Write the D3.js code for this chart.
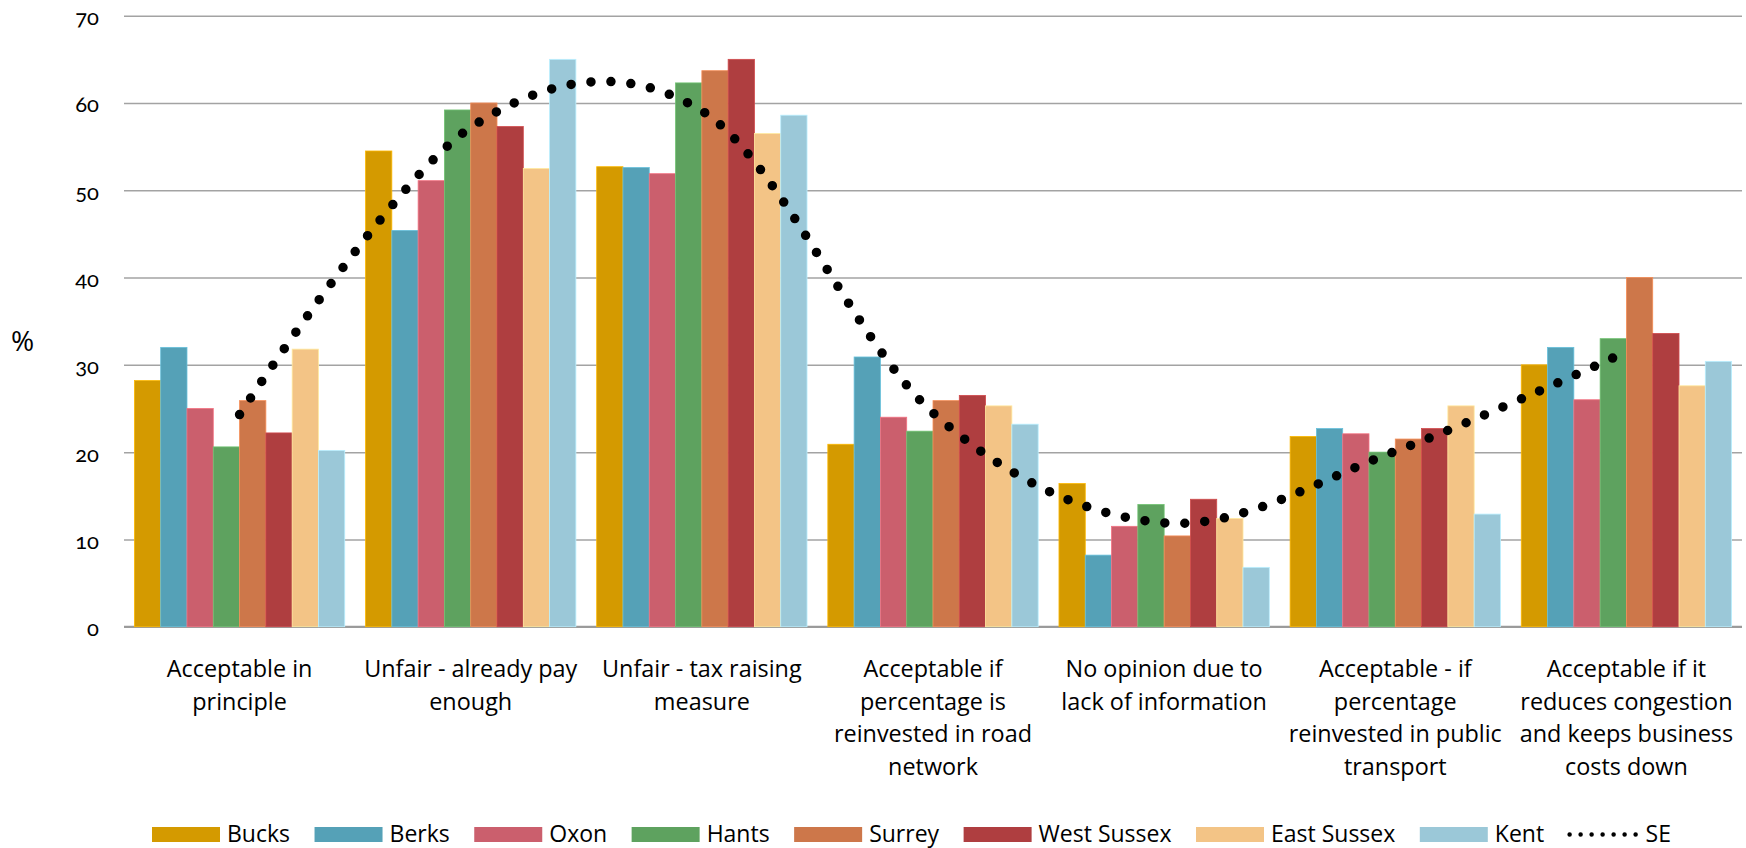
<!DOCTYPE html>
<html>
<head>
<meta charset="utf-8">
<script src="https://cdn.jsdelivr.net/npm/d3@7"></script>
<style>
  html, body { margin: 0; padding: 0; background: #fff; }
  svg { display: block; }
  text { font-family: "Open Sans", "Noto Sans", sans-serif; fill: #000; }
</style>
</head>
<body>
<svg id="chart" width="1746" height="848"></svg>
<script>
// Categories (each label split into its display lines)
const categories = [
  ["Acceptable in", "principle"],
  ["Unfair - already pay", "enough"],
  ["Unfair - tax raising", "measure"],
  ["Acceptable if", "percentage is", "reinvested in road", "network"],
  ["No opinion due to", "lack of information"],
  ["Acceptable - if", "percentage", "reinvested in public", "transport"],
  ["Acceptable if it", "reduces congestion", "and keeps business", "costs down"]
];

const seriesNames = ["Bucks", "Berks", "Oxon", "Hants", "Surrey", "West Sussex", "East Sussex", "Kent"];
const seriesColors = ["#D49A00", "#55A1B7", "#CB5F6D", "#5EA25F", "#CD774A", "#AF3E40", "#F3C486", "#9BC8D8"];

// Percentages per county, one value per category
const bucks      = [28.2, 54.5, 52.7, 20.9, 16.4, 21.8, 30.0];
const berks      = [32.0, 45.4, 52.6, 30.9,  8.2, 22.7, 32.0];
const oxon       = [25.0, 51.1, 51.9, 24.0, 11.5, 22.1, 26.0];
const hants      = [20.6, 59.2, 62.3, 22.4, 14.0, 20.0, 33.0];
const surrey     = [25.9, 60.0, 63.7, 25.9, 10.4, 21.5, 40.0];
const westSussex = [22.2, 57.3, 65.0, 26.5, 14.6, 22.7, 33.6];
const eastSussex = [31.8, 52.5, 56.5, 25.3, 12.4, 25.3, 27.6];
const kent       = [20.2, 65.0, 58.6, 23.2,  6.8, 12.9, 30.4];

// South East overall (smoothed dotted line)
const se = [24.3, 57.2, 59.1, 24.5, 11.9, 20.1, 31.5];

const yTicks = [0, 10, 20, 30, 40, 50, 60, 70];

const seriesValues = [bucks, berks, oxon, hants, surrey, westSussex, eastSussex, kent];

const svg = d3.select("#chart");
const plot = { left: 124, right: 1742, top: 15.7, bottom: 626.7 };

const x0 = d3.scaleBand()
  .domain(d3.range(categories.length))
  .range([plot.left, plot.right])
  .paddingInner(0.09)
  .paddingOuter(0.045);

const x1 = d3.scaleBand()
  .domain(seriesNames)
  .range([0, x0.bandwidth()])
  .padding(0);

const y = d3.scaleLinear().domain([0, 70]).range([plot.bottom, plot.top]);

// Horizontal gridlines and tick labels
const yAxis = d3.axisLeft(y)
  .tickValues(yTicks)
  .tickSize(-(plot.right - plot.left))
  .tickPadding(25)
  .tickFormat(d3.format("d"));

const gy = svg.append("g")
  .attr("transform", `translate(${plot.left},0)`)
  .call(yAxis);
gy.select(".domain").remove();
gy.selectAll(".tick line")
  .attr("stroke", "#a3a3a3")
  .attr("stroke-width", 1.5);
gy.selectAll(".tick text")
  .attr("dy", "9")
  .style("font-family", "Lato, 'Open Sans', sans-serif")
  .style("font-size", "22px")
  .style("font-variant-numeric", "oldstyle-nums")
  .style("font-feature-settings", "'onum' 1")
  .attr("fill", "#000");

// Baseline axis
svg.append("line")
  .attr("x1", plot.left).attr("x2", plot.right)
  .attr("y1", y(0)).attr("y2", y(0))
  .attr("stroke", "#9a9a9a")
  .attr("stroke-width", 2);

// Y-axis title
svg.append("text")
  .attr("x", 11)
  .attr("y", 351)
  .style("font-size", "28px")
  .text("%");

// Bars
const groups = svg.append("g").selectAll("g")
  .data(categories.map((c, i) => i))
  .join("g")
  .attr("transform", i => `translate(${x0(i)},0)`);

groups.selectAll("rect")
  .data(i => seriesNames.map((name, s) => ({ name, s, value: seriesValues[s][i] })))
  .join("rect")
  .attr("x", d => x1(d.name))
  .attr("width", x1.bandwidth())
  .attr("y", d => y(d.value))
  .attr("height", d => y(0) - y(d.value))
  .attr("fill", d => seriesColors[d.s])
  .attr("stroke", d => d3.color(seriesColors[d.s]).brighter(0.5))
  .attr("stroke-width", 0.8);

// SE smoothed dotted line
const seLine = d3.line()
  .x((d, i) => x0(i) + x0.bandwidth() / 2)
  .y(d => y(d))
  .curve(d3.curveCardinal.tension(0));

svg.append("path")
  .datum(se)
  .attr("d", seLine)
  .attr("fill", "none")
  .attr("stroke", "#000")
  .attr("stroke-width", 9.5)
  .attr("stroke-linecap", "round")
  .attr("stroke-dasharray", "0 20");

// Category labels
const labelG = svg.append("g");
categories.forEach((lines, i) => {
  const t = labelG.append("text")
    .attr("text-anchor", "middle")
    .style("font-size", "23.4px");
  lines.forEach((ln, k) => {
    t.append("tspan")
      .attr("x", x0(i) + x0.bandwidth() / 2)
      .attr("y", 677 + k * 32.5)
      .text(ln);
  });
});

// Legend
const legend = svg.append("g");
let lx = 152;
const swW = 68, swH = 15, swY = 827, textBase = 842, legendGap = 24.5;
seriesNames.forEach((name, s) => {
  legend.append("rect")
    .attr("x", lx).attr("y", swY)
    .attr("width", swW).attr("height", swH)
    .attr("fill", seriesColors[s]);
  const t = legend.append("text")
    .attr("x", lx + swW + 7)
    .attr("y", textBase)
    .style("font-size", "23px")
    .text(name);
  lx += swW + 7 + t.node().getComputedTextLength() + legendGap;
});
legend.append("line")
  .attr("x1", lx + 1).attr("x2", lx + swW)
  .attr("y1", swY + swH / 2).attr("y2", swY + swH / 2)
  .attr("stroke", "#000")
  .attr("stroke-width", 4.5)
  .attr("stroke-linecap", "round")
  .attr("stroke-dasharray", "0 11");
legend.append("text")
  .attr("x", lx + swW + 9)
  .attr("y", textBase)
  .style("font-size", "23px")
  .text("SE");
</script>
</body>
</html>
